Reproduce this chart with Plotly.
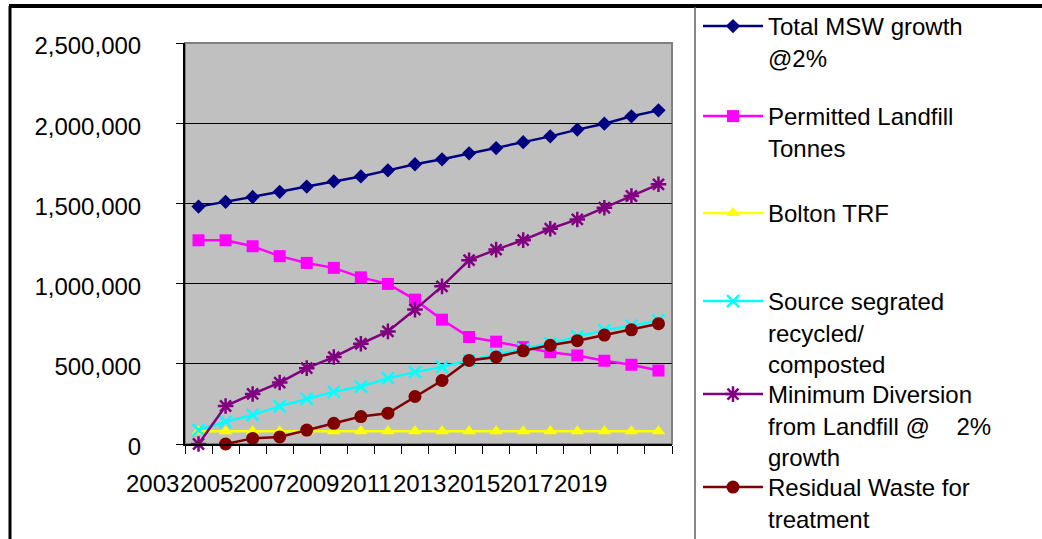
import plotly.graph_objects as go

# Municipal solid waste projections (tonnes per year)
years = list(range(2003, 2021))

total_msw = [1480000, 1510000, 1540000, 1572000, 1605000, 1637000, 1668000, 1706000, 1744000,
             1775000, 1812000, 1845000, 1882000, 1918000, 1960000, 1997000, 2043000, 2080000]
permitted_landfill = [1270000, 1270000, 1233000, 1171000, 1129000, 1098000, 1039000, 998000, 900000,
                      775000, 667000, 638000, 604000, 572000, 552000, 519000, 494000, 458000]
bolton_trf = [80000, 80000, 80000, 80000, 80000, 80000, 80000, 80000, 80000,
              80000, 80000, 80000, 80000, 80000, 80000, 80000, 80000, 80000]
source_segregated = [87000, 139000, 181000, 236000, 281000, 325000, 358000, 410000, 448000,
                     481000, 522000, 556000, 592000, 629000, 669000, 710000, 738000, 770000]
min_diversion = [0, 237000, 312000, 383000, 473000, 542000, 625000, 702000, 838000,
                 983000, 1146000, 1212000, 1271000, 1342000, 1400000, 1473000, 1546000, 1619000]
residual_waste = [None, 0, 35000, 44000, 87000, 129000, 171000, 192000, 296000,
                  396000, 521000, 542000, 581000, 615000, 644000, 679000, 712000, 750000]

label_years = list(range(2003, 2020, 2))

series_names = [
    "Total MSW growth<br>@2%",
    "Permitted Landfill<br>Tonnes",
    "Bolton TRF",
    "Source segrated<br>recycled/<br>composted",
    "Minimum Diversion<br>from Landfill @\u00a0\u00a0\u00a0\u00a02%<br>growth",
    "Residual Waste for<br>treatment",
]
series_values = [total_msw, permitted_landfill, bolton_trf,
                 source_segregated, min_diversion, residual_waste]
series_colors = ["#000080", "#FF00FF", "#FFFF00", "#00FFFF", "#800080", "#800000"]
series_symbols = ["diamond", "square", "triangle-up", "x-thin-open", "asterisk-open", "circle"]
marker_sizes = [11, 12, 12, 12, 13, 13]
marker_lines = [0, 0, 0, 2.5, 2.5, 0]

FONT = "Liberation Sans, Arial, sans-serif"
FS = 24

# plot area in pixels: x 185..672, y 43..444
def px_x(px):
    return (px - 185) / 487

def px_y(py):
    return (444 - py) / 401

# top edge (pixels) of each legend entry
legend_tops = [4, 94, 191, 279, 372, 465]

fig = go.Figure()
for i, (name, values) in enumerate(zip(series_names, series_values)):
    key = "legend" if i == 0 else f"legend{i + 1}"
    fig.add_trace(go.Scatter(
        x=years, y=values, name=name, mode="lines+markers",
        line=dict(color=series_colors[i], width=2.5),
        marker=dict(symbol=series_symbols[i], size=marker_sizes[i], color=series_colors[i],
                    line=dict(color=series_colors[i], width=marker_lines[i])),
        cliponaxis=False,
        legend=key,
    ))
    fig.update_layout({key: dict(
        x=px_x(698), y=px_y(legend_tops[i]), xanchor="left", yanchor="top",
        bgcolor="rgba(0,0,0,0)", borderwidth=0, valign="top",
        itemwidth=60,
        font=dict(family=FONT, size=FS, color="black"),
    )})

x_lo, x_hi = years[0] - 0.5, years[-1] + 0.5
boundaries = [y - 0.5 for y in years] + [years[-1] + 0.5]

fig.update_layout(
    width=1042, height=539,
    margin=dict(l=185, r=370, t=43, b=95, autoexpand=False),
    paper_bgcolor="white",
    plot_bgcolor="#C0C0C0",
    font=dict(family=FONT, size=FS, color="black"),
    showlegend=True,
    xaxis=dict(
        range=[x_lo, x_hi],
        showticklabels=False, ticks="", showgrid=False, zeroline=False,
        showline=True, linecolor="black", linewidth=2,
        minor=dict(tickmode="array", tickvals=boundaries, ticks="outside",
                   ticklen=8, tickcolor="black", tickwidth=1, showgrid=False),
    ),
    yaxis=dict(
        range=[0, 2500000], tickmode="linear", tick0=0, dtick=500000,
        tickformat=",d", ticks="outside", ticklen=7, tickcolor="black",
        showgrid=True, gridcolor="black", gridwidth=1, zeroline=False,
        showline=True, linecolor="black", linewidth=2,
        ticklabelstandoff=30, ticklabelshift=3,
    ),
)

# Year labels: every second category, packed tightly and shifted left under the axis
first_pos, label_step = years[0] - 1.7, 1.977
for i, yr in enumerate(label_years):
    pos = first_pos + i * label_step
    fig.add_annotation(
        text=str(yr), xref="paper", yref="paper",
        x=(pos - x_lo) / (x_hi - x_lo), y=px_y(483),
        xanchor="center", yanchor="middle", showarrow=False,
        font=dict(family=FONT, size=FS, color="black"),
    )

# plot-area border, outer chart frame and legend box edge
fig.add_shape(type="rect", xref="paper", yref="paper", x0=0, y0=0, x1=1, y1=1,
              line=dict(color="#808080", width=2), layer="below")
fig.add_shape(type="line", xref="paper", yref="paper",
              x0=px_x(9), x1=px_x(1042), y0=px_y(6), y1=px_y(6),
              line=dict(color="black", width=4))
fig.add_shape(type="line", xref="paper", yref="paper",
              x0=px_x(10), x1=px_x(10), y0=px_y(6), y1=px_y(545),
              line=dict(color="black", width=3))
fig.add_shape(type="line", xref="paper", yref="paper",
              x0=px_x(695), x1=px_x(695), y0=px_y(7), y1=px_y(545),
              line=dict(color="#606060", width=1.5))

fig.write_html("out.html")
